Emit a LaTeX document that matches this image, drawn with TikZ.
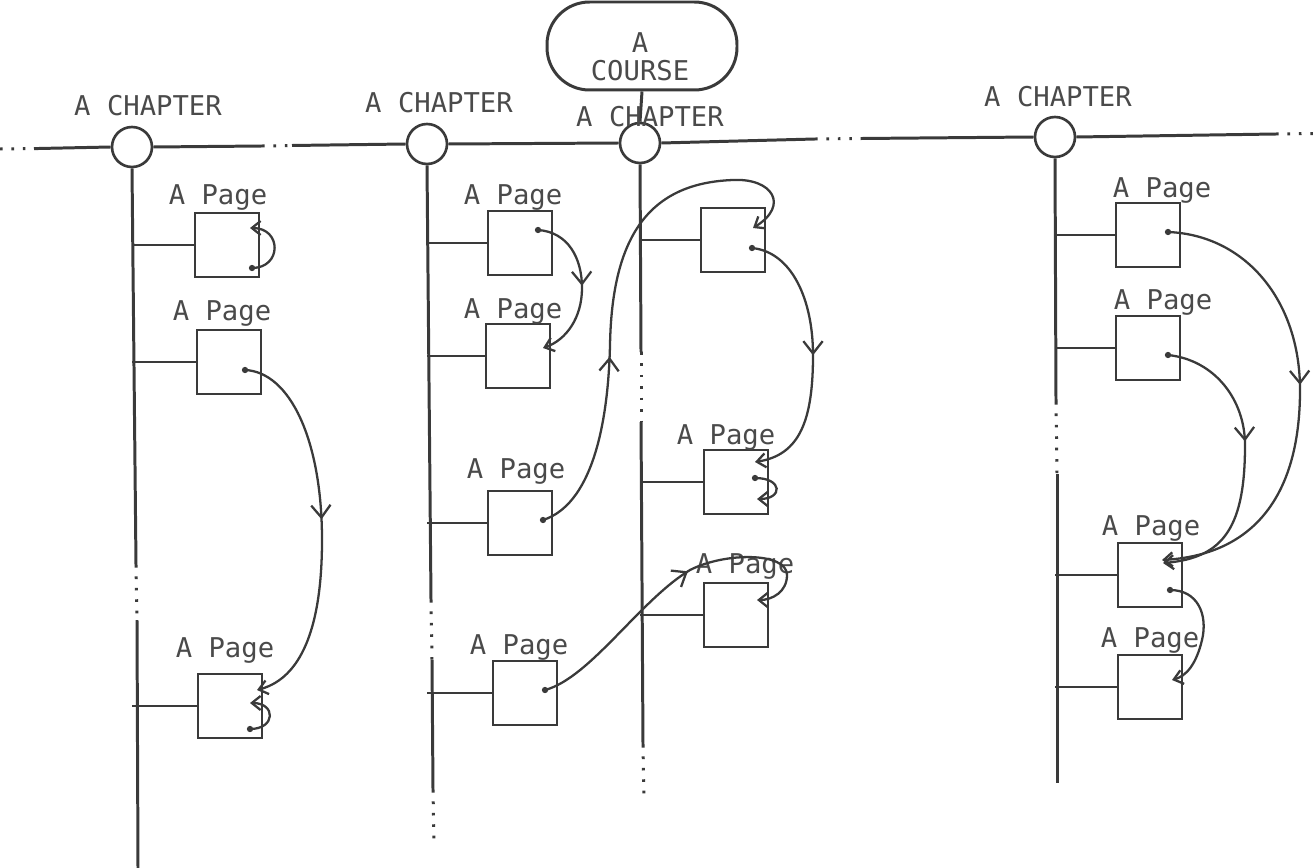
\documentclass[tikz,border=0pt]{standalone}
\usepackage{fontspec}
\newfontfamily\monofam{DejaVu Sans Mono}
\usetikzlibrary{arrows.meta,decorations.markings,calc}
\definecolor{ink}{HTML}{3A3A3A}
\definecolor{txt}{HTML}{4A4A4A}
\begin{document}
\begin{tikzpicture}[x=0.02cm,y=-0.02cm,
  chap/.style={circle, draw=ink, line width=1.5pt, minimum size=0.8cm, inner sep=0pt},
  pagebox/.style={draw=ink, line width=1.6pt, minimum width=1.28cm, minimum height=1.28cm, inner sep=0pt},
  lbl/.style={font=\monofam\fontsize{15.5}{16}\selectfont, text=txt, inner sep=0pt, anchor=base},
  trunk/.style={ink, line width=1.7pt},
  branch/.style={ink, line width=1.4pt},
  dots/.style={ink, line width=1.7pt, dash pattern=on 1.5pt off 5pt},
  link/.style={ink, line width=1.3pt},
  tip/.style={-{Straight Barb[length=5pt,width=8pt]}},
  midarrow/.style={postaction={decorate}, decoration={markings, mark=at position #1 with {\arrow{Straight Barb[length=7pt,width=11pt]}}}},
  course/.style={draw=ink, line width=1.7pt, minimum width=3.8cm, minimum height=1.76cm, rounded corners=0.85cm, inner sep=0pt}
]
\useasboundingbox (0,0) rectangle (1314,868);

% course
\node[course] (course) at (642,46) {};
\node[lbl, align=center, anchor=center] (coursetext) at (640,57) {A\\COURSE};

% chapter circles
\node[chap] (c1) at (132,147) {};
\node[chap] (c2) at (427,144) {};
\node[chap] (c3) at (640,143) {};
\node[chap] (c4) at (1055,137) {};

\node[lbl] (h1) at (148,116) {A CHAPTER};
\node[lbl] (h2) at (439,113) {A CHAPTER};
\node[lbl] (h4) at (1058,107) {A CHAPTER};

\draw[trunk] (course.south) -- (c3.north);
\node[lbl] (h3) at (650,127) {A CHAPTER};

% horizontal line
\coordinate (L0) at (0,149);
\coordinate (L1) at (34,148.6);
\coordinate (L2) at (262,146);
\coordinate (L3) at (292,145.5);
\coordinate (L4) at (815,139);
\coordinate (L5) at (862,138.5);
\coordinate (L6) at (1276,134);
\coordinate (L7) at (1314,133.5);
\draw[dots] (L0) -- (L1);
\draw[trunk] (L1) -- (c1.west);
\draw[trunk] (c1.east) -- (L2);
\draw[dots] (L2) -- (L3);
\draw[trunk] (L3) -- (c2.west);
\draw[trunk] (c2.east) -- (c3.west);
\draw[trunk] (c3.east) -- (L4);
\draw[dots] (L4) -- (L5);
\draw[trunk] (L5) -- (c4.west);
\draw[trunk] (c4.east) -- (L6);
\draw[dots] (L6) -- (L7);

% vertical lines
\coordinate (v1a) at (136,565); \coordinate (v1b) at (137,620); \coordinate (v1c) at (138,868);
\draw[trunk] (c1.south) -- (v1a);
\draw[dots] (v1a) -- (v1b);
\draw[trunk] (v1b) -- (v1c);

\coordinate (v2a) at (431,600); \coordinate (v2b) at (432,660); \coordinate (v2c) at (433,790); \coordinate (v2d) at (434,842);
\draw[trunk] (c2.south) -- (v2a);
\draw[dots] (v2a) -- (v2b);
\draw[trunk] (v2b) -- (v2c);
\draw[dots] (v2c) -- (v2d);

\coordinate (v3a) at (641,352); \coordinate (v3b) at (641,422); \coordinate (v3c) at (643,745); \coordinate (v3d) at (644,800);
\draw[trunk] (c3.south) -- (v3a);
\draw[dots] (v3a) -- (v3b);
\draw[trunk] (v3b) -- (v3c);
\draw[dots] (v3c) -- (v3d);

\coordinate (v4a) at (1056,402); \coordinate (v4b) at (1057,474); \coordinate (v4c) at (1057,783);
\draw[trunk] (c4.south) -- (v4a);
\draw[dots] (v4a) -- (v4b);
\draw[trunk] (v4b) -- (v4c);

% page boxes
\node[pagebox] (b11) at (227,245) {};
\node[pagebox] (b12) at (229,362) {};
\node[pagebox] (b13) at (230,706) {};
\node[pagebox] (b21) at (520,243) {};
\node[pagebox] (b22) at (518,356) {};
\node[pagebox] (b23) at (520,523) {};
\node[pagebox] (b24) at (525,693) {};
\node[pagebox] (b31) at (733,240) {};
\node[pagebox] (b32) at (736,482) {};
\node[pagebox] (b33) at (736,615) {};
\node[pagebox] (b41) at (1148,235) {};
\node[pagebox] (b42) at (1148,348) {};
\node[pagebox] (b43) at (1150,575) {};
\node[pagebox] (b44) at (1150,687) {};

% branches
\foreach \b/\c in {b11/c1,b12/c1,b13/c1,b21/c2,b22/c2,b23/c2,b24/c2,b31/c3,b32/c3,b33/c3,b41/c4,b42/c4,b43/c4,b44/c4}
  \draw[branch] (\b.west) -- (\b.west -| \c);

% page labels
\node[lbl] (t11) at (218,205) {A Page};
\node[lbl] (t12) at (222,320) {A Page};
\node[lbl] (t13) at (225,657) {A Page};
\node[lbl] (t21) at (513,205) {A Page};
\node[lbl] (t22) at (513,318) {A Page};
\node[lbl] (t23) at (516,478) {A Page};
\node[lbl] (t24) at (519,654) {A Page};
\node[lbl] (t32) at (726,444) {A Page};
\node[lbl] (t33) at (745,573) {A Page};
\node[lbl] (t41) at (1162,197) {A Page};
\node[lbl] (t42) at (1163,309) {A Page};
\node[lbl] (t43) at (1151,535) {A Page};
\node[lbl] (t44) at (1150,647) {A Page};

% link points
\coordinate (s1) at ($(b12)+(16,8)$);   \coordinate (e1) at ($(b13)+(27,-16)$);
\coordinate (l11s) at ($(b11)+(25,23)$); \coordinate (l11e) at ($(b11)+(23,-17)$);
\coordinate (l13s) at ($(b13)+(20,23)$); \coordinate (l13e) at ($(b13)+(20,-3)$);
\coordinate (s2) at ($(b21)+(18,-13)$); \coordinate (e2) at ($(b22)+(25,-8)$);
\coordinate (s3) at ($(b23)+(23,-3)$);  \coordinate (e3) at ($(b31)+(20,-12)$);
\coordinate (s4) at ($(b31)+(19,8)$);   \coordinate (e4) at ($(b32)+(19,-20)$);
\coordinate (l32s) at ($(b32)+(19,-4)$); \coordinate (l32e) at ($(b32)+(21,17)$);
\coordinate (s5) at ($(b24)+(20,-3)$);  \coordinate (e5) at ($(b33)+(21,-15)$);
\coordinate (s6) at ($(b41)+(20,-3)$);  \coordinate (e6) at ($(b43)+(12,-15)$);
\coordinate (s7) at ($(b42)+(20,7)$);   \coordinate (e7) at ($(b43)+(13,-12)$);
\coordinate (s8) at ($(b43)+(20,15)$);  \coordinate (e8) at ($(b44)+(22,-7)$);

% links
\draw[link,tip,midarrow=0.48] (s1) .. controls (290,372) and (322,440) .. (322,540) .. controls (322,640) and (295,680) .. (e1);
\draw[link,tip] (l11s) .. controls (282,268) and (282,228) .. (l11e);
\draw[link,tip] (l13s) .. controls (276,729) and (276,703) .. (l13e);
\draw[link,tip,midarrow=0.5] (s2) .. controls (568,232) and (582,258) .. (582,288) .. controls (582,318) and (566,340) .. (e2);
\draw[link,tip,midarrow=0.36] (s3) .. controls (590,505) and (608,430) .. (610,345) .. controls (612,235) and (650,183) .. (733,180) .. controls (772,178) and (790,205) .. (e3);
\draw[link,tip,midarrow=0.5] (s4) .. controls (792,252) and (813,300) .. (813,355) .. controls (813,420) and (800,455) .. (e4);
\draw[link,tip] (l32s) .. controls (783,478) and (783,499) .. (l32e);
\draw[link,tip,midarrow=0.55] (s5) .. controls (590,678) and (640,600) .. (690,570) .. controls (725,552) and (787,552) .. (787,575) .. controls (787,592) and (772,600) .. (e5);
\draw[link,tip,midarrow=0.47] (s6) .. controls (1245,235) and (1300,300) .. (1300,390) .. controls (1300,500) and (1250,555) .. (e6);
\draw[link,tip,midarrow=0.43] (s7) .. controls (1215,360) and (1245,400) .. (1245,445) .. controls (1245,525) and (1225,558) .. (e7);
\draw[link,tip] (s8) .. controls (1198,590) and (1208,615) .. (1202,640) .. controls (1196,665) and (1186,676) .. (e8);

% start dots
\foreach \p in {s1,l11s,l13s,s2,s3,s4,l32s,s5,s6,s7,s8}
  \fill[ink] (\p) circle (1.8pt);
\end{tikzpicture}
\end{document}
